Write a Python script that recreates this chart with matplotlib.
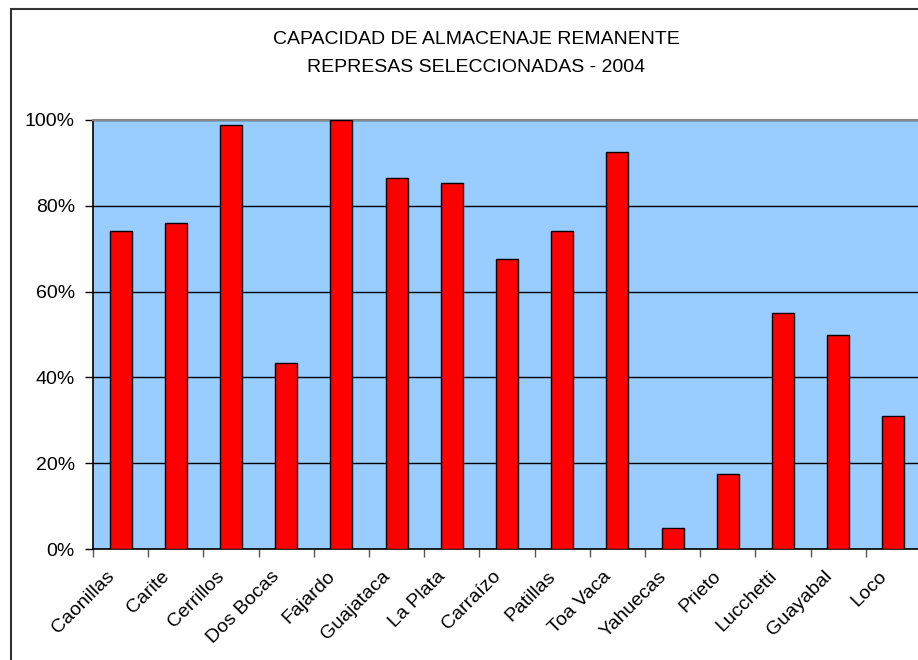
import numpy as np
import matplotlib.pyplot as plt
from matplotlib.patches import Rectangle
from matplotlib.ticker import PercentFormatter, FixedLocator
from matplotlib.transforms import ScaledTranslation

# Remaining storage capacity per reservoir (percent)
represas = ['Caonillas', 'Carite', 'Cerrillos', 'Dos Bocas', 'Fajardo', 'Guajataca',
            'La Plata', 'Carraízo', 'Patillas', 'Toa Vaca', 'Yahuecas', 'Prieto',
            'Lucchetti', 'Guayabal', 'Loco']
capacidad = [74.1, 75.9, 98.8, 43.4, 100.0, 86.5, 85.3, 67.6, 74.1, 92.6,
             4.8, 17.4, 54.9, 50.0, 31.0]

plt.rcParams['font.family'] = ['Liberation Sans', 'DejaVu Sans']
fs = 14

W, H = 918, 660
fig = plt.figure(figsize=(W / 100, H / 100), dpi=100)

# outer chart border (only left and top visible in the original crop)
fig.patches.append(Rectangle((11 / W, -0.1), 1.2, 1 - 9 / H + 0.1,
                             transform=fig.transFigure, fill=False,
                             edgecolor='#333333', linewidth=1.5))

# plot area: x 93..921 px, y 120..549 px
ax = fig.add_axes([93 / W, 1 - 549 / H, 828 / W, 429 / H])
ax.set_facecolor('#99CCFF')

x = np.arange(len(represas))
ax.bar(x, capacidad, width=0.4, color='#FF0000', edgecolor='black',
       linewidth=1.0, zorder=3)

ax.set_xlim(-0.5, len(represas) - 0.5)
ax.set_ylim(0, 100)
ax.set_yticks([0, 20, 40, 60, 80, 100])
ax.yaxis.set_major_formatter(PercentFormatter(decimals=0))
ax.yaxis.grid(True, color='black', linewidth=1.0, zorder=1)

ax.set_xticks(x)
ax.set_xticklabels(represas, rotation=45, ha='right', va='center',
                   rotation_mode='anchor')
ax.xaxis.set_minor_locator(FixedLocator(np.arange(-0.5, len(represas), 1.0)))
ax.tick_params(axis='x', which='major', length=0, pad=18, labelsize=fs)
ax.tick_params(axis='x', which='minor', length=6, width=1, color='#555555')
ax.tick_params(axis='y', length=6, width=1, pad=7, labelsize=fs)

# nudge the rotated labels left a bit, like the original
shift = ScaledTranslation(-9 / 100, 0, fig.dpi_scale_trans)
for lab in ax.get_xticklabels():
    lab.set_transform(lab.get_transform() + shift)

for side in ['left', 'bottom']:
    ax.spines[side].set_color('black')
    ax.spines[side].set_linewidth(1.2)
ax.spines['top'].set_color('#888888')
ax.spines['top'].set_linewidth(1.5)
ax.spines['right'].set_visible(False)

fig.text(476 / W, 1 - 39 / H, 'CAPACIDAD DE ALMACENAJE REMANENTE',
         ha='center', va='center', fontsize=fs)
fig.text(476 / W, 1 - 68 / H, 'REPRESAS SELECCIONADAS - 2004',
         ha='center', va='center', fontsize=fs)

fig.savefig('out.png', dpi=100)
